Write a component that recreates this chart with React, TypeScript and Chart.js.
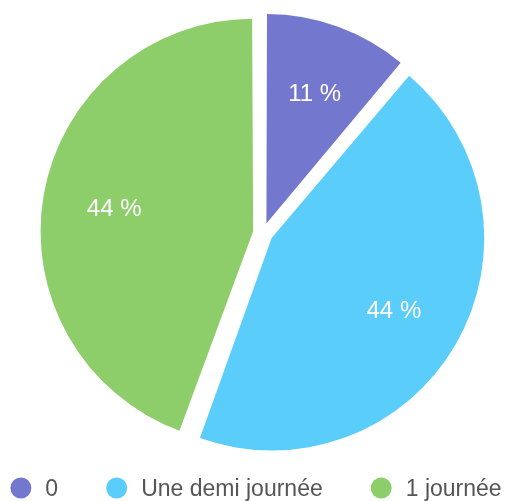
import React, { useEffect, useRef } from "react";
import { Chart, registerables } from "chart.js";

Chart.register(...registerables);

const categories: string[] = ["0", "Une demi journée", "1 journée"];
const values: number[] = [1, 4, 4];
const colors: string[] = ["#7377CD", "#5ACDFA", "#8DCE6B"];

const FONT = '"Helvetica Neue", Helvetica, "Liberation Sans", Arial, sans-serif';

const sliceLabels = {
  id: "sliceLabels",
  afterDatasetsDraw(chart: any) {
    const ctx = chart.ctx;
    const meta = chart.getDatasetMeta(0);
    const data = chart.data.datasets[0].data as number[];
    const total = data.reduce((a, b) => a + b, 0);
    ctx.save();
    ctx.fillStyle = "#ffffff";
    ctx.font = `24px ${FONT}`;
    ctx.textAlign = "center";
    ctx.textBaseline = "middle";
    meta.data.forEach((arc: any, i: number) => {
      const { x, y, startAngle, endAngle, outerRadius } = arc.getProps(
        ["x", "y", "startAngle", "endAngle", "outerRadius"],
        true
      );
      const mid = (startAngle + endAngle) / 2;
      const off = (arc.options.offset || 0) / 4;
      const r = off + outerRadius * 0.685;
      ctx.fillText(
        Math.round((data[i] / total) * 100) + " %",
        x + Math.cos(mid) * r,
        y + Math.sin(mid) * r + 3
      );
    });
    ctx.restore();
  },
};

const bottomLegend = {
  id: "bottomLegend",
  afterDraw(chart: any) {
    const ctx = chart.ctx;
    const labels = chart.data.labels as string[];
    const bg = chart.data.datasets[0].backgroundColor as string[];
    ctx.save();
    ctx.font = `23px ${FONT}`;
    ctx.textBaseline = "middle";
    ctx.textAlign = "left";
    const dotR = 10.5;
    const gapText = 14;
    const gapItem = 48;
    const widths = labels.map((l) => dotR * 2 + gapText + ctx.measureText(l).width);
    const total = widths.reduce((a, b) => a + b, 0) + gapItem * (labels.length - 1);
    let x = chart.width / 2 + 3 - total / 2;
    const y = chart.height - 13;
    labels.forEach((l, i) => {
      ctx.fillStyle = bg[i];
      ctx.beginPath();
      ctx.arc(x + dotR, y, dotR, 0, Math.PI * 2);
      ctx.fill();
      ctx.fillStyle = "#555555";
      ctx.fillText(l, x + dotR * 2 + gapText, y + 2);
      x += widths[i] + gapItem;
    });
    ctx.restore();
  },
};

export default function App() {
  const ref = useRef<HTMLCanvasElement | null>(null);
  useEffect(() => {
    if (!ref.current) return;
    const chart = new Chart(ref.current, {
      type: "pie",
      data: {
        labels: categories,
        datasets: [
          {
            data: values,
            backgroundColor: colors,
            borderWidth: 0,
            offset: 40,
            hoverOffset: 0,
          },
        ],
      },
      options: {
        responsive: false,
        animation: false,
        devicePixelRatio: 1,
        layout: { padding: { top: 7, bottom: 42, left: 20, right: 0 } },
        plugins: {
          legend: { display: false },
          tooltip: { enabled: false },
        },
      },
      plugins: [sliceLabels, bottomLegend],
    } as any);
    return () => chart.destroy();
  }, []);
  return (
    <div style={{ position: "absolute", left: 0, top: 0, width: 506, height: 501 }}>
      <canvas ref={ref} width={506} height={501} style={{ display: "block" }} />
    </div>
  );
}
